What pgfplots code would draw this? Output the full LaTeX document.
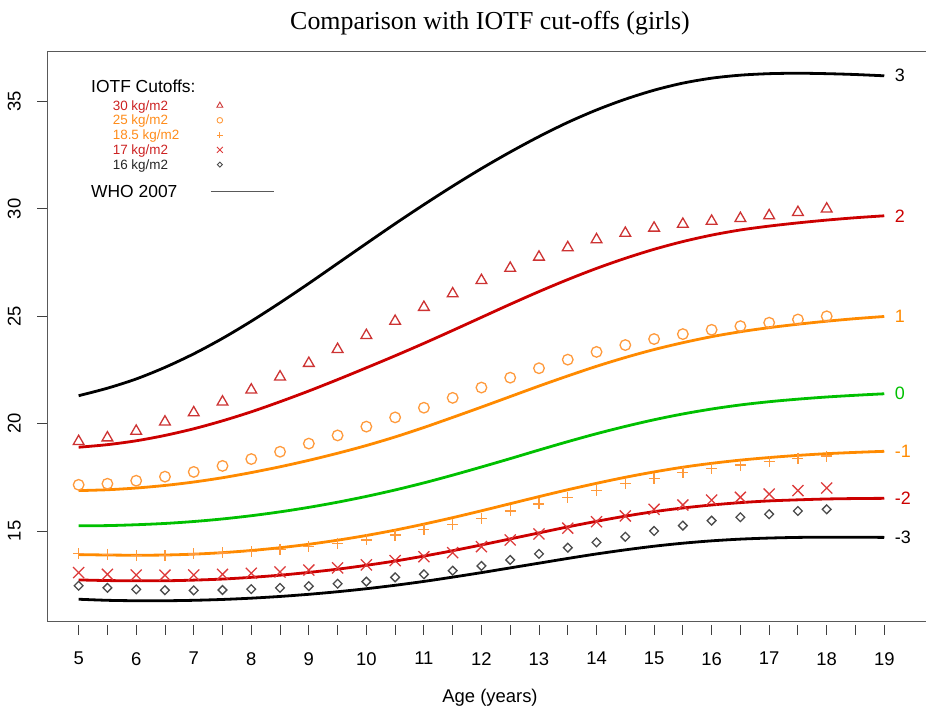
\documentclass[border=0pt]{standalone}
\usepackage{pgfplots}
\usepackage{pgfplotstable}
\pgfplotsset{compat=1.18}
\usepackage{fontspec}
\setmainfont{Liberation Sans}
\newfontfamily\titlefont{Liberation Serif}

\definecolor{zred}{HTML}{CC0000}
\definecolor{zorange}{HTML}{FF8A00}
\definecolor{zgreen}{HTML}{00C000}
\definecolor{ptri}{HTML}{CD3333}
\definecolor{pcirc}{HTML}{FF9A3C}
\definecolor{pplus}{HTML}{FF9A3C}
\definecolor{pcross}{HTML}{DD3A3A}
\definecolor{pdiam}{HTML}{4A4A4A}
\definecolor{legred}{HTML}{CC2222}
\definecolor{legorange}{HTML}{FF8C1A}

% WHO 2007 BMI-for-age, girls: z-score curves
\pgfplotstableread{
age  p3    p2    p1    z0    m1    m2    m3
5.0  21.30 18.90 16.88 15.24 13.90 12.72 11.82
5.5  21.65 19.02 16.92 15.25 13.88 12.69 11.77
6.0  22.08 19.20 17.00 15.29 13.87 12.68 11.75
6.5  22.62 19.45 17.12 15.35 13.88 12.68 11.75
7.0  23.25 19.76 17.28 15.44 13.92 12.71 11.77
7.5  23.97 20.13 17.48 15.56 13.99 12.76 11.81
8.0  24.77 20.55 17.72 15.71 14.09 12.84 11.87
8.5  25.63 21.02 17.99 15.89 14.22 12.94 11.95
9.0  26.53 21.52 18.29 16.10 14.38 13.07 12.05
9.5  27.46 22.05 18.62 16.34 14.57 13.22 12.17
10.0 28.39 22.60 18.98 16.61 14.79 13.40 12.31
10.5 29.31 23.16 19.38 16.91 15.04 13.60 12.47
11.0 30.20 23.74 19.82 17.24 15.32 13.83 12.65
11.5 31.06 24.34 20.29 17.60 15.62 14.08 12.85
12.0 31.88 24.95 20.77 17.98 15.94 14.35 13.06
12.5 32.65 25.56 21.26 18.37 16.27 14.63 13.28
13.0 33.37 26.15 21.75 18.77 16.60 14.91 13.50
13.5 34.03 26.71 22.22 19.16 16.92 15.19 13.72
14.0 34.61 27.23 22.67 19.53 17.22 15.45 13.93
14.5 35.11 27.70 23.08 19.87 17.50 15.69 14.12
15.0 35.53 28.12 23.45 20.18 17.75 15.90 14.29
15.5 35.86 28.48 23.77 20.45 17.97 16.07 14.43
16.0 36.09 28.78 24.05 20.68 18.15 16.21 14.54
16.5 36.23 29.02 24.28 20.87 18.30 16.32 14.62
17.0 36.30 29.20 24.47 21.02 18.42 16.40 14.67
17.5 36.32 29.35 24.63 21.14 18.52 16.45 14.70
18.0 36.30 29.48 24.77 21.24 18.60 16.49 14.71
18.5 36.26 29.59 24.89 21.32 18.66 16.51 14.71
19.0 36.20 29.68 24.99 21.39 18.71 16.52 14.70
}\whotab

% IOTF cut-offs, girls
\pgfplotstableread{
age  c30   c25   c185  c17   c16
5.0  19.17 17.15 13.94 13.06 12.45
5.5  19.34 17.20 13.91 12.98 12.35
6.0  19.65 17.34 13.85 12.95 12.28
6.5  20.08 17.53 13.85 12.94 12.24
7.0  20.51 17.75 13.93 12.95 12.23
7.5  21.01 18.03 13.98 12.98 12.25
8.0  21.57 18.35 14.04 13.03 12.29
8.5  22.18 18.69 14.15 13.09 12.35
9.0  22.81 19.07 14.27 13.18 12.43
9.5  23.46 19.45 14.43 13.28 12.54
10.0 24.11 19.86 14.58 13.42 12.64
10.5 24.77 20.29 14.81 13.62 12.84
11.0 25.42 20.74 15.08 13.80 12.98
11.5 26.05 21.20 15.31 13.99 13.15
12.0 26.67 21.68 15.59 14.27 13.37
12.5 27.24 22.14 15.93 14.58 13.65
13.0 27.76 22.58 16.26 14.86 13.93
13.5 28.20 22.98 16.55 15.13 14.22
14.0 28.57 23.34 16.88 15.43 14.47
14.5 28.87 23.66 17.22 15.70 14.73
15.0 29.11 23.94 17.45 16.01 15.00
15.5 29.29 24.17 17.72 16.21 15.25
16.0 29.43 24.37 17.90 16.44 15.48
16.5 29.56 24.54 18.07 16.57 15.64
17.0 29.69 24.70 18.23 16.72 15.78
17.5 29.84 24.85 18.39 16.88 15.93
18.0 30.00 25.00 18.49 17.00 16.01
}\iotftab

\pgfplotsset{
  markimg/.style={legend image code/.code={%
      \path[draw=none,fill=none] (0bp,-3bp) rectangle (63bp,3bp);
      \draw[##1] plot coordinates {(9bp,0bp)};}},
  lineimg/.style={legend image code/.code={%
      \draw[##1] (0bp,0bp) -- (63bp,0bp);}},
}

\newcommand{\hdrow}[1]{\makebox[119bp][l]{\fontsize{17.5}{18}\selectfont\rule[-5.59bp]{0pt}{23.7bp}#1}}
\newcommand{\itrow}[2]{\makebox[119bp][l]{\hspace{21.6bp}\fontsize{13.5}{14}\selectfont\rule[-2.32bp]{0pt}{14.3bp}\textcolor{#1}{#2}}}
\newcommand{\whorow}[1]{\makebox[119bp][l]{\fontsize{17.5}{18}\selectfont\rule[-13.19bp]{0pt}{38.9bp}#1}}

\begin{document}
\begin{tikzpicture}[x=1bp,y=1bp]
\useasboundingbox (0,0) rectangle (926,712);
\node[font=\titlefont\fontsize{26}{28}\selectfont] at (490,689) {Comparison with IOTF cut-offs (girls)};
\node[font=\fontsize{18.5}{20}\selectfont] at (490,14) {Age (years)};
\begin{axis}[
  at={(47bp,90bp)}, anchor=south west,
  scale only axis, width=929.3bp, height=570bp,
  xmin=4.45, xmax=20.6, ymin=10.76, ymax=37.31,
  clip=false,
  axis line style={draw=none},
  xtick={5,...,19}, minor xtick={5.5,6.5,...,18.5},
  ytick={15,20,...,35},
  xtick pos=bottom, ytick pos=left,
  tick align=outside,
  major tick length=10bp, minor tick length=10bp,
  tick style={black!75, line width=0.9bp},
  xtick style={yshift=-3bp},
  /pgf/number format/assume math mode=true,
  ticklabel style={font=\fontsize{18.5}{20}\selectfont},
  yticklabel style={rotate=90, anchor=south, inner sep=0pt},
  xticklabel style={inner sep=0pt},
  xticklabel shift=20bp,
  yticklabel shift=16bp,
  legend plot pos=right,
  legend cell align=left,
  legend style={at={(axis description cs:0.04735,0.96096)}, anchor=north west,
    draw=none, fill=none, inner sep=0pt, row sep=0pt, column sep=0pt,
    nodes={inner sep=0pt, text depth=}},
]
% legend entries
\addlegendimage{empty legend}
\addlegendentry{\hdrow{IOTF Cutoffs:}}
\addlegendimage{markimg, only marks, mark=triangle, mark size=3.4bp, ptri, line width=0.9bp}
\addlegendentry{\itrow{legred}{30 kg/m2}}
\addlegendimage{markimg, only marks, mark=o, mark size=2.8bp, pcirc, line width=0.9bp}
\addlegendentry{\itrow{legorange}{25 kg/m2}}
\addlegendimage{markimg, only marks, mark=+, mark size=3bp, pplus, line width=0.9bp}
\addlegendentry{\itrow{legorange}{18.5 kg/m2}}
\addlegendimage{markimg, only marks, mark=x, mark size=4.2bp, pcross, line width=0.9bp}
\addlegendentry{\itrow{legred}{17 kg/m2}}
\addlegendimage{markimg, only marks, mark=square, mark size=1.8bp, mark options={rotate=45}, pdiam, line width=0.9bp}
\addlegendentry{\itrow{black!85}{16 kg/m2}}
\addlegendimage{lineimg, black!65, line width=1.3bp}
\addlegendentry{\whorow{WHO 2007}}

% WHO 2007 z-score curves
\pgfplotsset{every axis plot/.append style={forget plot}}
\addplot[black, line width=2.8bp, smooth, no marks] table[x=age,y=p3] {\whotab}
  node[pos=1, anchor=west, xshift=6bp, font=\fontsize{18}{20}\selectfont, text=black] {3};
\addplot[zred, line width=2.8bp, smooth, no marks] table[x=age,y=p2] {\whotab}
  node[pos=1, anchor=west, xshift=6bp, font=\fontsize{18}{20}\selectfont, text=zred] {2};
\addplot[zorange, line width=2.8bp, smooth, no marks] table[x=age,y=p1] {\whotab}
  node[pos=1, anchor=west, xshift=6bp, font=\fontsize{18}{20}\selectfont, text=zorange] {1};
\addplot[zgreen, line width=2.8bp, smooth, no marks] table[x=age,y=z0] {\whotab}
  node[pos=1, anchor=west, xshift=6bp, font=\fontsize{18}{20}\selectfont, text=zgreen] {0};
\addplot[zorange, line width=2.8bp, smooth, no marks] table[x=age,y=m1] {\whotab}
  node[pos=1, anchor=west, xshift=6bp, font=\fontsize{18}{20}\selectfont, text=zorange] {-1};
\addplot[zred, line width=2.8bp, smooth, no marks] table[x=age,y=m2] {\whotab}
  node[pos=1, anchor=west, xshift=6bp, font=\fontsize{18}{20}\selectfont, text=zred] {-2};
\addplot[black, line width=2.8bp, smooth, no marks] table[x=age,y=m3] {\whotab}
  node[pos=1, anchor=west, xshift=6bp, font=\fontsize{18}{20}\selectfont, text=black] {-3};

% IOTF cut-off points
\addplot[only marks, mark=triangle, mark size=6.2bp, ptri, line width=1.3bp] table[x=age,y=c30] {\iotftab};
\addplot[only marks, mark=o, mark size=5.3bp, pcirc, line width=1.3bp] table[x=age,y=c25] {\iotftab};
\addplot[only marks, mark=+, mark size=5.5bp, pplus, line width=1.3bp] table[x=age,y=c185] {\iotftab};
\addplot[only marks, mark=x, mark size=7.8bp, pcross, line width=1.3bp] table[x=age,y=c17] {\iotftab};
\addplot[only marks, mark=square, mark size=3.1bp, mark options={rotate=45}, pdiam, line width=1.3bp] table[x=age,y=c16] {\iotftab};

% plot frame (open on the right)
\draw[black!65, line width=1bp] (rel axis cs:1,0) -- (rel axis cs:0,0) -- (rel axis cs:0,1) -- (rel axis cs:1,1);
\end{axis}
\end{tikzpicture}
\end{document}
